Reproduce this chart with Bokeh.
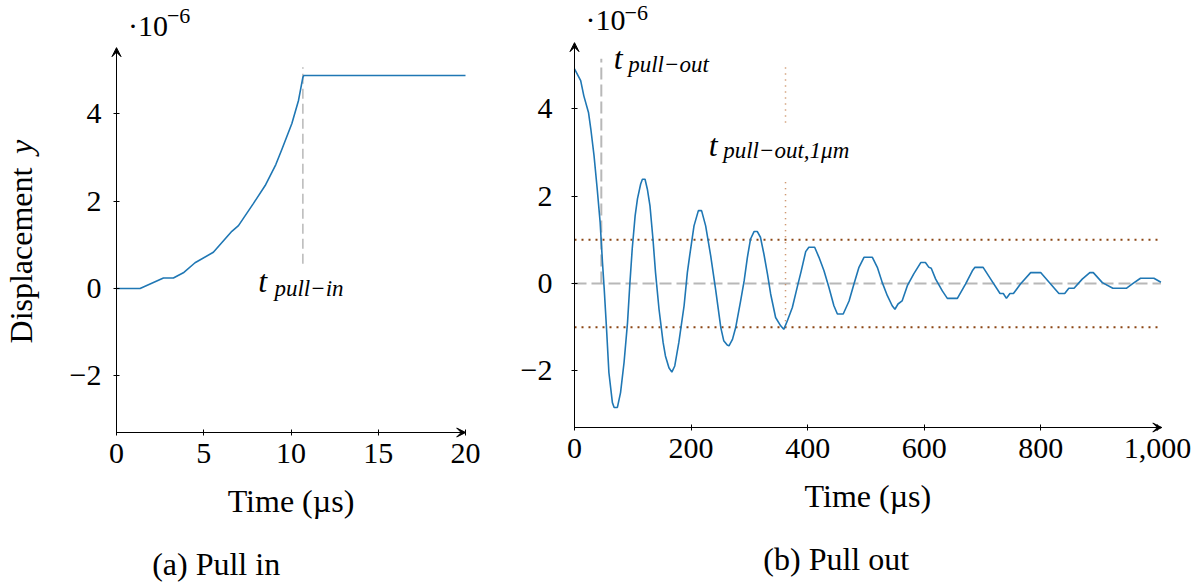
from bokeh.plotting import figure
from bokeh.models import Label, Arrow, VeeHead, FixedTicker, LinearAxis, Range1d
from bokeh.layouts import row
from bokeh.embed import file_html
from bokeh.resources import INLINE

FONT = "Liberation Serif"
BLUE = "#1f77b4"
GRAY = "#b8b8b8"
BROWN = "#8b4513"
BROWN_LIGHT = "#c07a45"

# ---------------- data (displacement in units of 1e-6) ----------------
# (a) Pull in
pin_time = [0, 1.35, 2.69, 3.26, 3.83, 4.5, 5.55, 6.61, 6.99, 7.85, 8.52, 9.13,
            9.48, 10.05, 10.43, 10.68, 10.73, 20]
pin_disp = [0, 0, 0.24, 0.24, 0.36, 0.59, 0.83, 1.31, 1.44, 1.95, 2.36, 2.84,
            3.19, 3.78, 4.31, 4.84, 4.88, 4.88]
t_pull_in = 10.68

# (b) Pull out
pout_time = [0, 10.6, 16, 24, 28, 33.5, 39, 44, 48, 51,
             55, 59, 65, 68, 73.6, 79, 85, 91, 95, 99,
             104, 108, 113.5, 116.5, 121, 125, 129.5, 134.6, 139, 145,
             152, 156, 162, 167, 172, 179, 188, 193.6, 197.6, 205,
             212.5, 218, 225, 233.6, 242, 251, 256, 262, 265, 271,
             276.5, 285, 291, 296.6, 302, 308, 313.7, 319, 325, 331,
             336.5, 345, 353.7, 359, 365, 373.7, 382, 389, 396.6, 402,
             412, 419.4, 428, 436.5, 445, 451, 461, 471, 479.4, 488,
             496.6, 511, 519.5, 528, 536.7, 545, 549.7, 555, 562, 571,
             582, 594, 602, 608, 612, 619.6, 631, 639.6, 656.8, 671,
             682.5, 687, 701, 714, 730, 735.6, 741, 747, 753, 765,
             782.5, 799.7, 816.8, 831, 841, 848, 857, 871, 884, 890,
             905.5, 923.6, 946.6, 957, 971, 994, 1006]
pout_disp = [4.92, 4.65, 4.3, 3.92, 3.54, 2.93, 2.16, 1.40, 0.48, -0.13,
             -1.05, -2.04, -2.73, -2.84, -2.84, -2.5, -1.81, -0.89, 0.0, 0.79,
             1.55, 1.94, 2.28, 2.39, 2.39, 2.16, 1.78, 1.02, 0.25, -0.59,
             -1.35, -1.66, -1.93, -2.03, -1.89, -1.35, -0.51, 0.25, 0.64, 1.32,
             1.67, 1.67, 1.32, 0.64, -0.13, -1.01, -1.31, -1.41, -1.43, -1.28,
             -1.01, -0.40, 0.06, 0.60, 1.02, 1.19, 1.19, 1.06, 0.67, 0.22,
             -0.24, -0.78, -0.97, -1.05, -0.86, -0.55, -0.09, 0.29, 0.73, 0.83,
             0.83, 0.60, 0.29, -0.09, -0.51, -0.70, -0.70, -0.40, -0.01, 0.37,
             0.60, 0.60, 0.37, 0.02, -0.28, -0.51, -0.59, -0.47, -0.40, -0.05,
             0.22, 0.48, 0.48, 0.37, 0.35, 0.10, -0.17, -0.34, -0.34, -0.01,
             0.29, 0.37, 0.37, 0.10, -0.23, -0.23, -0.34, -0.23, -0.23, -0.01,
             0.25, 0.25, -0.01, -0.23, -0.23, -0.11, -0.11, 0.10, 0.25, 0.25,
             0.02, -0.11, -0.11, -0.01, 0.12, 0.12, 0.03]
t_pull_out = 46
t_pull_out_1um = 362
threshold = 1.0

y_ticks = [-2, 0, 2, 4]
x_ticks_a = [0, 5, 10, 15, 20]
x_ticks_b = [0, 200, 400, 600, 800, 1000]

Y_MIN, Y_MAX = -3.3, 5.5
H = 584
FRAME_H = 384


def make_fig(width, ax_left_px, ax_right_px, xmin, xmax, top_px, xticks,
             ystandoff=12, xoverrides=None):
    """Figure whose plotting area covers the whole canvas; the axes are
    placed at fixed data locations so every text can live inside it."""
    sx = (ax_right_px - ax_left_px) / (xmax - xmin)
    sy = FRAME_H / (Y_MAX - Y_MIN)
    x_range = Range1d(xmin - ax_left_px / sx, xmax + (width - ax_right_px) / sx)
    y_range = Range1d(Y_MIN - (H - top_px - FRAME_H) / sy, Y_MAX + top_px / sy)
    p = figure(width=width, height=H, x_range=x_range, y_range=y_range,
               x_axis_location=None, y_axis_location=None, min_border=0,
               output_backend="svg", toolbar_location=None)
    p.outline_line_color = None
    p.grid.visible = False
    p.background_fill_color = "white"
    p.border_fill_color = "white"

    xa = LinearAxis(fixed_location=Y_MIN, bounds=(xmin, xmax),
                    ticker=FixedTicker(ticks=xticks))
    ya = LinearAxis(fixed_location=xmin, bounds=(Y_MIN, Y_MAX),
                    ticker=FixedTicker(ticks=y_ticks))
    for ax in (xa, ya):
        ax.major_tick_in = 3
        ax.major_tick_out = 3
        ax.minor_tick_line_color = None
        ax.axis_line_color = "black"
        ax.major_tick_line_color = "black"
        ax.major_label_text_font = FONT
        ax.major_label_text_font_size = "30px"
        ax.major_label_text_color = "black"
    xa.major_label_standoff = 8
    ya.major_label_standoff = ystandoff
    ya.major_label_overrides = {-2: "\u22122"}
    if xoverrides:
        xa.major_label_overrides = xoverrides
    p.add_layout(xa, "below")
    p.add_layout(ya, "left")

    # arrow heads at the axis ends
    p.add_layout(Arrow(x_start=xmin, y_start=Y_MAX - 0.2, x_end=xmin, y_end=Y_MAX + 0.02,
                       line_color="black", line_width=1,
                       end=VeeHead(size=9, fill_color="black", line_color="black", line_width=1)))
    dx = (xmax - xmin) * 0.01
    p.add_layout(Arrow(x_start=xmax - dx, y_start=Y_MIN, x_end=xmax + dx * 0.05, y_end=Y_MIN,
                       line_color="black", line_width=1,
                       end=VeeHead(size=9, fill_color="black", line_color="black", line_width=1)))
    return p


def lab(p, x, y, text, size, italic=False, align="left", baseline="alphabetic", angle=0.0):
    p.add_layout(Label(x=x, y=y, text=text, text_font=FONT,
                       text_font_size=f"{size}px",
                       text_font_style="italic" if italic else "normal",
                       text_align=align, text_baseline=baseline, angle=angle,
                       text_color="black"))


# ---------------- (a) Pull in ----------------
pa = make_fig(485, 116, 465, 0, 20, 48, x_ticks_a, ystandoff=12)
pa.line([t_pull_in, t_pull_in], [0.57, 5.07], line_color=GRAY, line_width=1.5, line_dash="10 5")
pa.line(pin_time, pin_disp, line_color=BLUE, line_width=1.6)
lab(pa, 0.66, 6.03, "\u00b710", 30)
lab(pa, 2.89, 6.25, "\u22126", 22)
lab(pa, 8.12, 0.17, "t", 32, italic=True)
lab(pa, 9.05, 0.0, "pull\u2212in", 23, italic=True)
lab(pa, -5.45, -1.26, "Displacement", 32, align="left", angle=1.5707963)
lab(pa, -5.45, 3.08, "y", 32, italic=True, align="left", angle=1.5707963)
lab(pa, 10.0, -4.88, "Time (\u00b5s)", 32, align="center")
lab(pa, 5.71, -6.32, "(a) Pull in", 32, align="center")

# ---------------- (b) Pull out ----------------
pb = make_fig(713, 89, 676, 0, 1007, 43, x_ticks_b, ystandoff=19,
              xoverrides={1000: "1,000"})
pb.line([0, 1006], [threshold, threshold], line_color=BROWN, line_width=2, line_dash="2 5")
pb.line([0, 1006], [-threshold, -threshold], line_color=BROWN, line_width=2, line_dash="2 5")
pb.line([0, 1006], [0, 0], line_color=GRAY, line_width=2, line_dash="12 5")
pb.line([t_pull_out, t_pull_out], [0, 5.15], line_color=GRAY, line_width=2, line_dash="12 5")
pb.line([t_pull_out_1um, t_pull_out_1um], [3.69, 5.03], line_color=BROWN_LIGHT, line_width=1.5, line_dash="1 5")
pb.line([t_pull_out_1um, t_pull_out_1um], [-1.0, 2.40], line_color=BROWN_LIGHT, line_width=1.5, line_dash="1 5")
pb.line(pout_time, pout_disp, line_color=BLUE, line_width=1.6)
lab(pb, 18.9, 6.04, "\u00b710", 30)
lab(pb, 85.8, 6.2, "\u22126", 22)
lab(pb, 67.2, 5.16, "t", 32, italic=True)
lab(pb, 92.0, 5.02, "pull\u2212out", 23, italic=True)
lab(pb, 230.5, 3.17, "t", 32, italic=True)
lab(pb, 255.0, 3.04, "pull\u2212out,1\u03bcm", 23, italic=True)
lab(pb, 503.3, -4.88, "Time (\u00b5s)", 32, align="center")
lab(pb, 449.0, -6.32, "(b) Pull out", 32, align="center")

layout = row(pa, pb)
open("out.html", "w").write(file_html(layout, INLINE))
